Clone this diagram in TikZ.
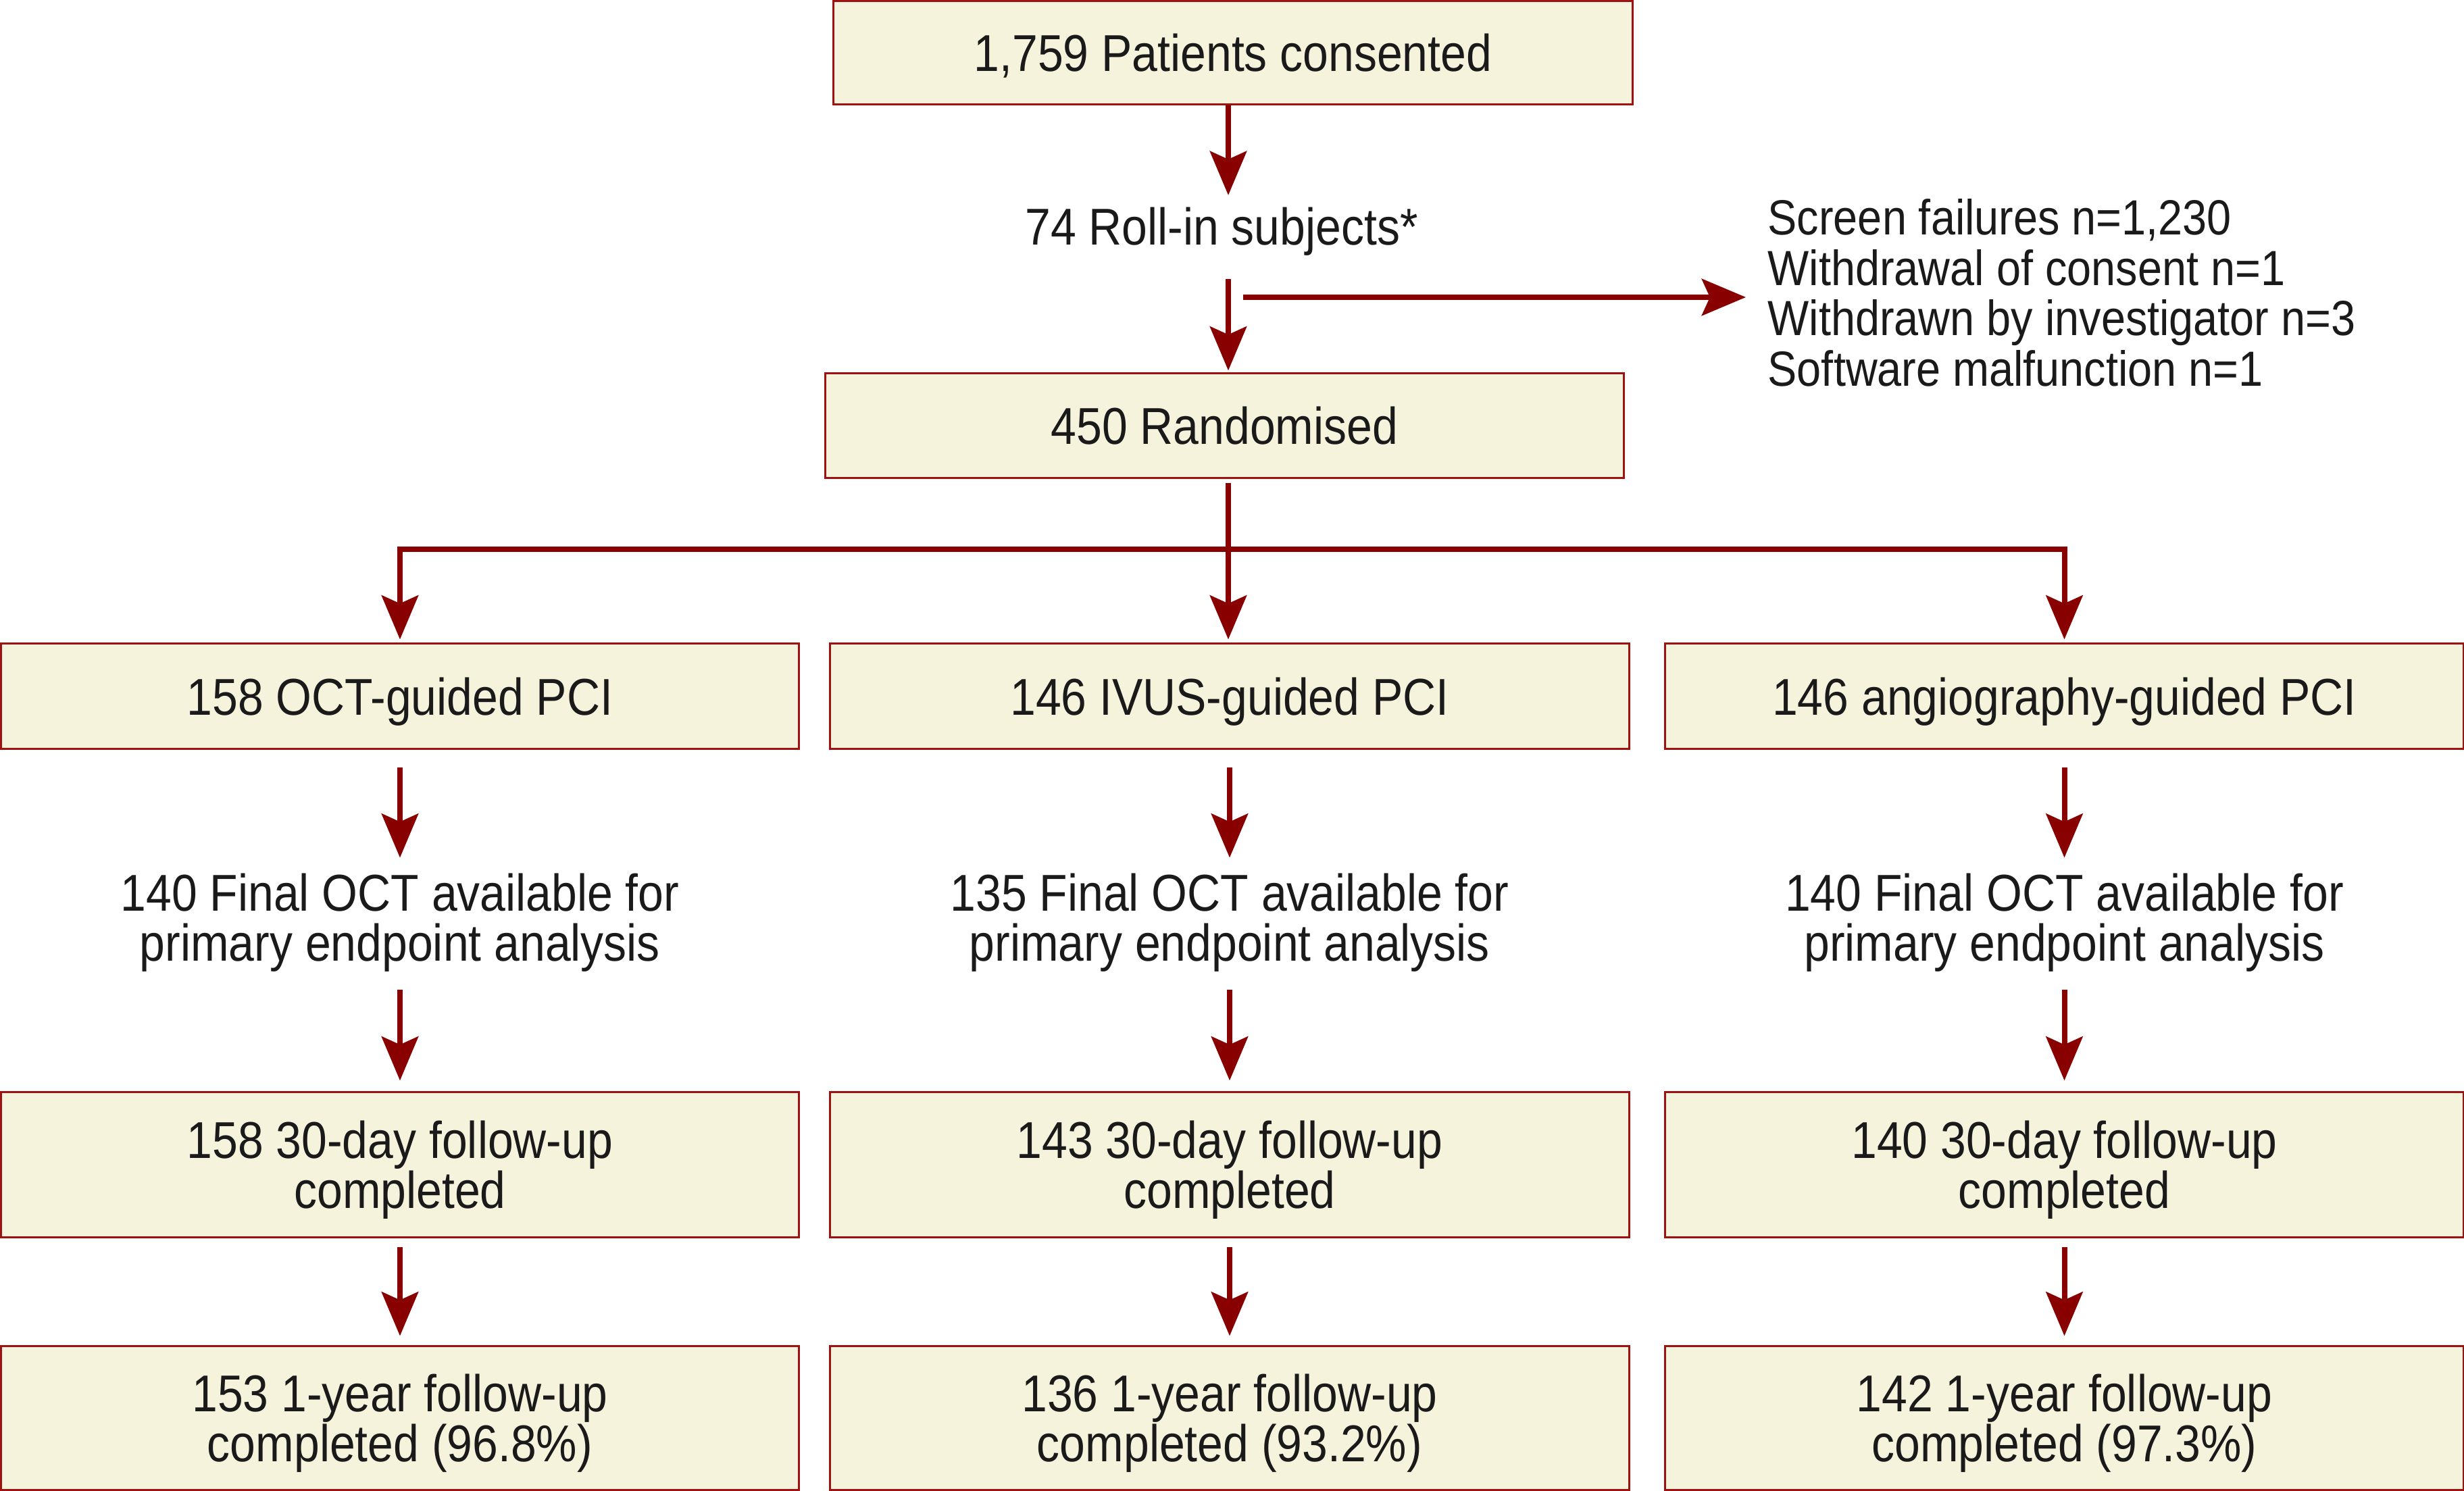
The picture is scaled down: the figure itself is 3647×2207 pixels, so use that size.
\documentclass[tikz,border=0pt]{standalone}
\usepackage{fontspec}
\setmainfont[FakeStretch=0.886]{Liberation Sans}
\usetikzlibrary{arrows.meta}
\definecolor{arrred}{RGB}{137,0,0}
\definecolor{boxred}{RGB}{158,18,18}
\definecolor{boxfill}{RGB}{245,243,220}
\definecolor{txt}{RGB}{26,26,26}
\tikzset{
  mainfont/.style={font=\fontsize{21.8}{21}\selectfont, text=txt},
  sidefont/.style={font=\fontsize{20.8}{21.3}\selectfont, text=txt},
  flowbox/.style={mainfont, draw=boxred, line width=0.85pt, fill=boxfill,
    align=center, inner sep=0pt, text depth=0pt},
  plain/.style={mainfont, align=center, inner sep=0pt, text depth=0pt},
  conn/.style={draw=arrred, line width=2.28pt},
  arr/.style={conn, -{Stealth[length=18.5pt, width=15.4pt, inset=3.4pt]}}
}
\begin{document}
\begin{tikzpicture}[x=0.01cm, y=-0.01cm]
\useasboundingbox (0,0) rectangle (3647,2207);
% top part
\node[flowbox, minimum width=11.82cm, minimum height=1.52cm] (top) at (1825,78) {1,759 Patients consented};
\node[plain, anchor=base] (rollin) at (1808,363) {74 Roll-in subjects*};
\node[flowbox, minimum width=11.81cm, minimum height=1.54cm] (rand) at (1812.5,630) {450 Randomised};
\node[sidefont, align=left, anchor=west, inner sep=0pt, text depth=0pt] (side) at (2616,433) {Screen failures n=1,230\\Withdrawal of consent n=1\\Withdrawn by investigator n=3\\Software malfunction n=1};
\coordinate (spine) at (1818,0);
\coordinate (split) at (1818,813);
\coordinate (bs) at (1840,440);
\coordinate (be) at (2584,440);
% row 1
\node[flowbox, minimum width=11.80cm, minimum height=1.55cm] (a1) at (592,1030.5) {158 OCT-guided PCI};
\node[flowbox, minimum width=11.82cm, minimum height=1.55cm] (b1) at (1820,1030.5) {146 IVUS-guided PCI};
\node[flowbox, minimum width=11.81cm, minimum height=1.55cm] (c1) at (3055.5,1030.5) {146 angiography-guided PCI};
% middle texts
\node[plain] (a2) at (592,1358) {140 Final OCT available for\\primary endpoint analysis};
\node[plain] (b2) at (1820,1358) {135 Final OCT available for\\primary endpoint analysis};
\node[plain] (c2) at (3055.5,1358) {140 Final OCT available for\\primary endpoint analysis};
% row 2
\node[flowbox, minimum width=11.80cm, minimum height=2.14cm] (a3) at (592,1724) {158 30-day follow-up\\completed};
\node[flowbox, minimum width=11.82cm, minimum height=2.14cm] (b3) at (1820,1724) {143 30-day follow-up\\completed};
\node[flowbox, minimum width=11.81cm, minimum height=2.14cm] (c3) at (3055.5,1724) {140 30-day follow-up\\completed};
% row 3
\node[flowbox, minimum width=11.80cm, minimum height=2.12cm] (a4) at (592,2099) {153 1-year follow-up\\completed (96.8\%)};
\node[flowbox, minimum width=11.82cm, minimum height=2.12cm] (b4) at (1820,2099) {136 1-year follow-up\\completed (93.2\%)};
\node[flowbox, minimum width=11.81cm, minimum height=2.12cm] (c4) at (3055.5,2099) {142 1-year follow-up\\completed (97.3\%)};
% connectors top
\draw[arr] (top.south -| spine) -- ([yshift=0.74cm]rollin.base -| spine);
\draw[arr] ([yshift=-0.50cm]rollin.base -| spine) -- ([yshift=0.03cm]rand.north -| spine);
\draw[arr] (bs) -- (be);
\draw[conn] ([yshift=-0.06cm]rand.south -| spine) -- (split);
\draw[arr] (split) -| ([yshift=0.05cm]a1.north);
\draw[arr] (split) -| ([yshift=0.05cm]c1.north);
\draw[arr] (split) -- ([yshift=0.05cm]b1.north -| spine);
% column connectors
\foreach \c in {a,b,c}{
  \draw[arr] ([yshift=-0.26cm]\c1.south) -- ([yshift=0.23cm]\c2.north);
  \draw[arr] ([yshift=-0.42cm]\c2.south) -- ([yshift=0.16cm]\c3.north);
  \draw[arr] ([yshift=-0.13cm]\c3.south) -- ([yshift=0.14cm]\c4.north);
}
\end{tikzpicture}
\end{document}
